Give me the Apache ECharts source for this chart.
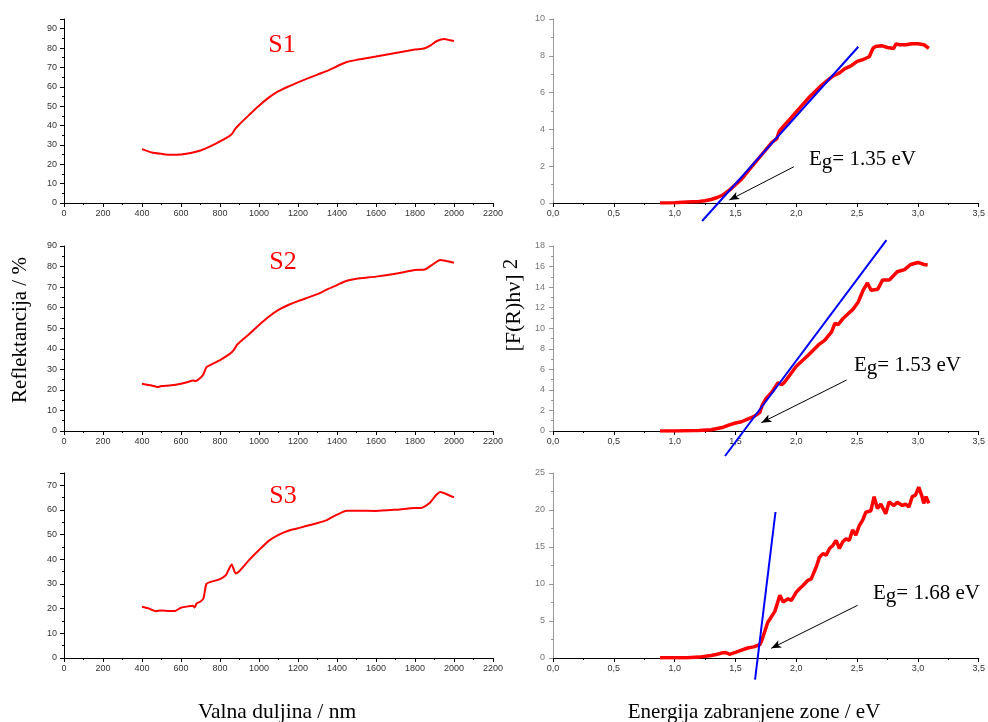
<!DOCTYPE html>
<html><head><meta charset="utf-8">
<script src="https://cdn.jsdelivr.net/npm/echarts@6/dist/echarts.min.js"></script>
<style>html,body{margin:0;padding:0;background:#fff}#c{width:988px;height:722px}</style>
</head><body><div id="c"></div>
<script>
// ---- Reflectance spectra (left column) ----
var s1Wl = [400,450,500,550,600,650,700,750,800,850,860,880,900,950,1000,1050,1100,1150,1200,1300,1350,1400,1450,1500,1600,1700,1800,1850,1880,1910,1950,1980,2000];
var s1R  = [27.8,26.1,25.4,24.9,25.1,25.8,27.1,29.2,31.8,34.7,35.5,38.5,40.7,45.5,50.2,54.4,57.7,60.1,62.3,66.3,68.2,70.6,72.8,73.9,75.6,77.5,79.2,79.9,81.4,83.5,84.7,84.0,83.6];

var s2Wl = [400,450,480,500,550,600,640,660,675,700,715,730,750,800,850,870,890,950,1000,1050,1100,1150,1200,1300,1350,1400,1450,1500,1600,1700,1800,1850,1880,1930,1960,2000];
var s2R  = [23.0,22.1,21.4,21.9,22.2,23.0,24.0,24.6,24.3,25.9,27.6,31.0,32.1,34.5,37.5,39.4,42.2,47.2,51.6,55.6,58.9,61.3,63.2,66.6,68.9,71.0,73.1,74.1,75.1,76.5,78.3,78.6,80.3,83.2,82.7,81.9];

var s3Wl = [400,430,470,500,540,570,600,640,660,670,680,700,715,730,750,800,830,860,880,900,950,1000,1050,1100,1150,1200,1300,1350,1400,1450,1500,1600,1700,1800,1830,1870,1910,1930,1960,2000];
var s3R  = [20.8,20.2,19.0,19.3,19.1,19.1,20.4,21.0,21.2,20.5,22.1,22.9,24.1,30.0,30.8,32.0,33.6,37.9,34.3,35.3,39.8,43.8,47.5,49.9,51.6,52.6,54.7,56.0,58.1,59.7,59.7,59.6,60.1,60.8,60.8,62.5,66.2,67.3,66.5,65.1];

// ---- Tauc plots (right column) ----
var t1E = [0.88,1.0,1.1,1.2,1.25,1.3,1.35,1.4,1.45,1.5,1.55,1.6,1.7,1.8,1.84,1.86,1.9,2.0,2.1,2.2,2.3,2.35,2.4,2.45,2.5,2.55,2.6,2.63,2.65,2.7,2.75,2.8,2.82,2.85,2.9,2.95,3.0,3.05,3.09];
var t1F = [0,0.02,0.05,0.08,0.12,0.19,0.3,0.45,0.7,1.0,1.3,1.7,2.5,3.3,3.5,3.9,4.2,4.95,5.7,6.35,6.9,7.05,7.3,7.45,7.7,7.8,7.95,8.4,8.5,8.55,8.45,8.4,8.65,8.6,8.6,8.65,8.65,8.6,8.4];

var t2E = [0.88,1.0,1.2,1.3,1.4,1.45,1.5,1.55,1.6,1.65,1.7,1.72,1.75,1.8,1.85,1.88,1.9,1.95,2.0,2.1,2.18,2.235,2.29,2.317,2.344,2.385,2.426,2.467,2.507,2.55,2.585,2.615,2.67,2.71,2.765,2.83,2.89,2.94,3.0,3.05,3.08];
var t2F = [0,0,0.05,0.13,0.37,0.6,0.78,0.9,1.15,1.4,1.8,2.5,3.15,3.8,4.7,4.5,4.7,5.5,6.3,7.4,8.35,8.84,9.65,10.46,10.36,10.95,11.4,11.86,12.5,13.7,14.4,13.7,13.8,14.7,14.7,15.5,15.7,16.2,16.4,16.2,16.15];

var t3E = [0.88,1.0,1.1,1.2,1.3,1.35,1.4,1.42,1.45,1.5,1.55,1.6,1.65,1.7,1.715,1.765,1.824,1.865,1.892,1.933,1.96,2.0,2.028,2.055,2.096,2.123,2.164,2.19,2.219,2.246,2.273,2.3,2.327,2.355,2.382,2.409,2.436,2.463,2.49,2.518,2.545,2.572,2.613,2.64,2.667,2.695,2.735,2.763,2.803,2.83,2.871,2.898,2.926,2.953,2.98,3.007,3.034,3.048,3.067,3.089];
var t3F = [0.05,0.05,0.05,0.12,0.33,0.5,0.72,0.75,0.5,0.75,1.05,1.35,1.5,1.8,2.3,4.8,6.3,8.47,7.57,8.0,7.8,8.9,9.4,9.8,10.5,10.7,12.3,13.6,14.1,13.9,14.8,15.2,15.9,14.8,15.7,16.1,15.9,17.3,16.6,17.9,18.6,19.7,19.9,21.8,20.2,20.8,19.5,21.1,20.6,21.05,20.6,20.8,20.4,21.8,22.0,23.1,21.8,20.9,21.8,20.9];

// linear fits (tangent lines) — end points
var fit1X = [1.226,2.51],  fit1Y = [-0.98,8.49];
var fit2X = [1.414,2.741], fit2Y = [-2.43,18.58];
var fit3X = [1.661,1.829], fit3Y = [-2.92,19.73];

// annotation arrows [x1,y1,x2,y2]
var arrow1 = [1.98,1.97,1.449,0.16];
var arrow2 = [2.414,4.96,1.713,0.81];
var arrow3 = [2.504,7.12,1.794,1.31];

var sampleNames = ['S1','S2','S3'];
var gapLabels = ['1.35','1.53','1.68'];

function zip(a,b){return a.map(function(v,i){return [v,b[i]];});}

var chart = echarts.init(document.getElementById('c'), null, {renderer:'canvas'});
var lx = 64, rx = 553, gw = 429;
var tops = [19,246,473], hs = [184,185,185];
var grids = [];
for (var r=0;r<3;r++){
  grids.push({left:lx, top:tops[r], width:gw, height:hs[r]});
  grids.push({left:rx, top:tops[r], width:gw, height:hs[r]});
}
var sans = 'Liberation Sans';
var serif = 'Liberation Serif';
function xAx(gi, left){
  return {
    type:'value', gridIndex:gi, min:0, max:left?2200:3.5, interval:left?200:0.5,
    axisLine:{show:true,onZero:false,lineStyle:{color:'#000',width:1}},
    axisTick:{show:true,length:4,lineStyle:{color:'#000'}},
    minorTick:{show:true,splitNumber:2,length:2,lineStyle:{color:'#000'}},
    splitLine:{show:false},
    axisLabel:{fontSize:9,fontFamily:sans,color:'#333',margin:6,
      formatter:left?function(v){return String(v);}:function(v){return v.toFixed(1).replace('.',',');}}
  };
}
function yAx(gi, max, interval, left){
  var col = left ? '#000' : '#999';
  return {
    type:'value', gridIndex:gi, min:0, max:max, interval:interval,
    axisLine:{show:true,onZero:false,lineStyle:{color:col,width:1}},
    axisTick:{show:true,length:4,lineStyle:{color:col}},
    minorTick:{show:true,splitNumber:2,length:2,lineStyle:{color:col}},
    splitLine:{show:false},
    axisLabel:{fontSize:9,fontFamily:sans,color:left?'#333':'#777',margin:left?7:8,
      formatter:function(v){return (Math.abs(v/interval-Math.round(v/interval))<1e-6)?String(v):'';}}
  };
}
var xAxes=[], yAxes=[];
var yMax = [95,10,90,18,75,25], yInt=[10,2,10,2,10,5];
for (var g=0; g<6; g++){
  var left = g%2===0;
  xAxes.push(xAx(g,left));
  yAxes.push(yAx(g,yMax[g],yInt[g],left));
}
var red = '#ff0000', blue = '#0000ff';
function refl(gi, x, y){
  return {type:'line', xAxisIndex:gi, yAxisIndex:gi, data:zip(x,y), symbol:'none', showSymbol:false,
    smooth:0.2, lineStyle:{color:red,width:2}, itemStyle:{color:red}, z:2};
}
function tauc(gi, x, y){
  return {type:'line', xAxisIndex:gi, yAxisIndex:gi, data:zip(x,y), symbol:'none', showSymbol:false,
    lineStyle:{color:red,width:3.5}, itemStyle:{color:red}, z:2};
}
function fit(gi, x, y, arr){
  return {type:'line', xAxisIndex:gi, yAxisIndex:gi, data:zip(x,y), symbol:'none', showSymbol:false,
    clip:false, lineStyle:{color:blue,width:2}, itemStyle:{color:blue}, z:3,
    markLine:{silent:true, symbol:['none','arrow'], symbolSize:[6,10], animation:false,
      lineStyle:{color:'#000',width:1,type:'solid'}, label:{show:false},
      data:[[{coord:[arr[0],arr[1]]},{coord:[arr[2],arr[3]]}]]}};
}
var series = [
  refl(0,s1Wl,s1R), tauc(1,t1E,t1F), fit(1,fit1X,fit1Y,arrow1),
  refl(2,s2Wl,s2R), tauc(3,t2E,t2F), fit(3,fit2X,fit2Y,arrow2),
  refl(4,s3Wl,s3R), tauc(5,t3E,t3F), fit(5,fit3X,fit3Y,arrow3)
];

var graphics = [];
var sPos = [[282,45],[283,262],[283,496]];
for (var i=0;i<3;i++){
  graphics.push({type:'text', x:sPos[i][0], y:sPos[i][1],
    style:{text:sampleNames[i], font:'26px '+serif, fill:red, align:'center', verticalAlign:'middle'}});
}
var ePos = [[809,161],[854,367],[873,595]];
for (var i=0;i<3;i++){
  graphics.push({type:'text', x:ePos[i][0], y:ePos[i][1],
    style:{text:'{a|E}{b|g}{a|= '+gapLabels[i]+' eV}', align:'left', verticalAlign:'middle',
      rich:{a:{fontSize:21,fontFamily:serif,fill:'#000',lineHeight:24,verticalAlign:'top'},
            b:{fontSize:21,fontFamily:serif,fill:'#000',lineHeight:20,verticalAlign:'bottom'}}}});
}
graphics.push({type:'text', x:277, y:712, style:{text:'Valna duljina / nm', font:'21.5px '+serif, fill:'#000', align:'center', verticalAlign:'middle'}});
graphics.push({type:'text', x:754, y:712, style:{text:'Energija zabranjene zone / eV', font:'21px '+serif, fill:'#000', align:'center', verticalAlign:'middle'}});
graphics.push({type:'text', x:20, y:330, rotation:Math.PI/2, style:{text:'Reflektancija / %', font:'21px '+serif, fill:'#000', align:'center', verticalAlign:'middle'}});
graphics.push({type:'text', x:514, y:313, rotation:Math.PI/2, style:{text:'[F(R)h\u03bd]', font:'22px '+serif, fill:'#000', align:'center', verticalAlign:'middle'}});
graphics.push({type:'text', x:511, y:264, rotation:Math.PI/2, style:{text:'2', font:'21px '+serif, fill:'#000', align:'center', verticalAlign:'middle'}});

chart.setOption({
  animation:false,
  backgroundColor:'#fff',
  grid:grids, xAxis:xAxes, yAxis:yAxes, series:series, graphic:graphics
});
</script></body></html>
